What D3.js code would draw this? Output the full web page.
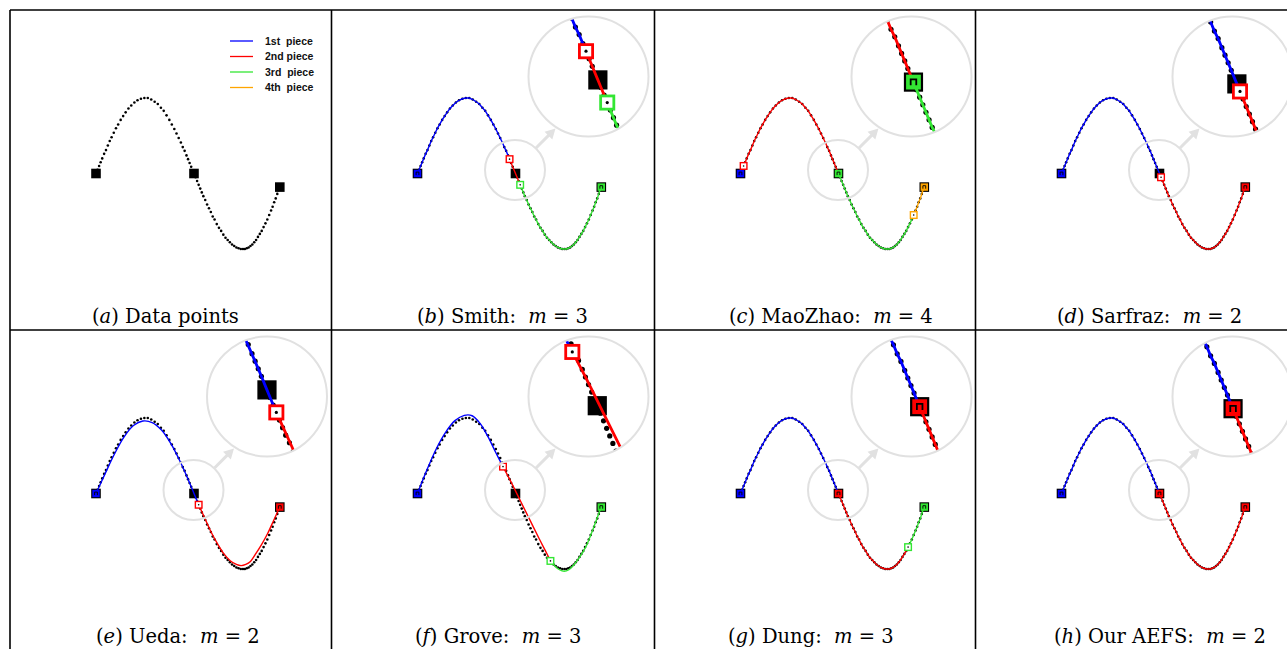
<!DOCTYPE html>
<html>
<head>
<meta charset="utf-8">
<script src="https://cdn.jsdelivr.net/npm/d3@7"></script>
<style>
body { margin: 0; background: #fff; }
text { white-space: pre; }
</style>
</head>
<body>
<svg id="fig"></svg>
<script>
// data points (x in curve units, y in amplitude units)
var dataX = [0, 0.05, 0.10, 0.15, 0.20, 0.26, 0.32, 0.38, 0.44, 0.50, 0.57, 0.64, 0.71, 0.79, 0.87, 0.95, 1.04, 1.13, 1.23, 1.33, 1.44, 1.55,
    1.66, 1.77, 1.88, 1.98, 2.08, 2.17, 2.26, 2.35, 2.43, 2.51, 2.58, 2.65, 2.72, 2.78, 2.84, 2.90, 2.95, 3.00, 3.05, 3.10, 3.14,
    3.19, 3.24, 3.29, 3.34, 3.39, 3.44, 3.50, 3.56, 3.62, 3.68, 3.74, 3.80, 3.87, 3.94, 4.01, 4.08, 4.15, 4.22, 4.29, 4.36, 4.43, 4.50, 4.57, 4.64, 4.71,
    4.77, 4.83, 4.89, 4.95, 5.01, 5.07, 5.13, 5.19, 5.25, 5.31, 5.37, 5.43, 5.49, 5.55, 5.61, 5.66, 5.71, 5.76, 5.81, 5.85, 5.89];
var dataY = [0, 0.05, 0.10, 0.15, 0.20, 0.26, 0.31, 0.37, 0.43, 0.48, 0.54, 0.60, 0.65, 0.71, 0.76, 0.81, 0.86, 0.90, 0.94, 0.97, 0.99, 1.00,
    1.00, 0.98, 0.95, 0.92, 0.87, 0.83, 0.77, 0.71, 0.65, 0.59, 0.53, 0.47, 0.41, 0.35, 0.30, 0.24, 0.19, 0.14, 0.09, 0.04, 0,
    -0.05, -0.10, -0.15, -0.20, -0.25, -0.30, -0.35, -0.41, -0.46, -0.51, -0.57, -0.61, -0.67, -0.72, -0.76, -0.81, -0.85, -0.88, -0.91, -0.94, -0.96, -0.98, -0.99, -1.00, -1.00,
    -1.00, -0.99, -0.98, -0.96, -0.94, -0.91, -0.88, -0.84, -0.80, -0.76, -0.71, -0.66, -0.61, -0.55, -0.49, -0.44, -0.38, -0.33, -0.27, -0.22, -0.18];

// the true breakpoints of the data (black squares)
var trueBreakX = [0, 3.14, 5.89];

var pieceColors = ["#0000ff", "#ff0000", "#33e633", "#ffa500"];
var legendLabels = ["1st  piece", "2nd piece", "3rd  piece", "4th  piece"];

var panelLetters = ["a", "b", "c", "d", "e", "f", "g", "h"];
var panelNames = ["Data points", "Smith", "MaoZhao", "Sarfraz", "Ueda", "Grove", "Dung", "Our AEFS"];
var panelM = [null, 3, 4, 2, 2, 3, 3, 2];
// start of each piece found by every method
var panelBreaks = [[], [0, 2.95, 3.29], [0, 0.10, 3.14, 5.55], [0, 3.19], [0, 3.29], [0, 2.74, 4.26], [0, 3.14, 5.37], [0, 3.14]];

// fitted curves that leave the data (Ueda, Grove)
var uedaFit = [
    [[0, 0], [0.3, 0.27], [0.6, 0.53], [0.9, 0.75], [1.2, 0.9], [1.5, 0.96], [1.8, 0.94], [2.1, 0.84], [2.4, 0.66], [2.7, 0.42], [3.0, 0.14], [3.14, 0.0], [3.29, -0.149]],
    [[3.29, -0.149], [3.5, -0.34], [3.7, -0.52], [3.9, -0.67], [4.1, -0.8], [4.3, -0.89], [4.5, -0.94], [4.65, -0.955], [4.8, -0.94], [4.95, -0.9], [5.1, -0.81], [5.3, -0.68], [5.5, -0.53], [5.7, -0.35], [5.89, -0.18]]
];
var groveFit = [
    [[0, 0], [0.3, 0.31], [0.6, 0.59], [0.9, 0.81], [1.2, 0.965], [1.5, 1.035], [1.75, 1.03], [2.0, 0.93], [2.25, 0.76], [2.5, 0.55], [2.74, 0.356]],
    [[2.74, 0.356], [3.0, 0.15], [3.3, -0.1], [3.6, -0.35], [3.9, -0.6], [4.1, -0.76], [4.26, -0.893]],
    [[4.26, -0.893], [4.4, -0.96], [4.55, -1.01], [4.7, -1.03], [4.85, -1.01], [5.0, -0.95], [5.2, -0.84], [5.4, -0.70], [5.6, -0.50], [5.75, -0.33], [5.89, -0.18]]
];
var panelFits = [null, null, null, null, uedaFit, groveFit, null, null];

// layout
var width = 1287, height = 649;
var colX = [10, 331.5, 654.5, 975.5];
var rowY = [10, 330];
var capX = [82, 85.5, 74.5, 81.5, 86, 83.5, 73.5, 78.5];
var insetFocus = [null, [179.3, 161.8], [183, 160.7], [181.8, 159.8], [184, 166.8], [179.6, 158.9], [179.9, 158.4], [183.7, 157.4]];
var bigC = [257, 66.5], bigR = 60, zoomK = 2;
var smallC = [183.5, 160], smallR = 30;
var arrowFrom = [204.5, 138], arrowTo = [224, 118.5];

var x = d3.scaleLinear().domain([0, 5.89]).range([86, 269.8]);
var y = d3.scaleLinear().domain([-1, 1]).range([239, 88]);

var points = dataX.map(function(v, i) { return [v, dataY[i]]; });
var line = d3.line().x(function(d) { return x(d[0]); }).y(function(d) { return y(d[1]); });
var smooth = d3.line().x(function(d) { return x(d[0]); }).y(function(d) { return y(d[1]); }).curve(d3.curveCatmullRom.alpha(0.5));

function isTrueBreak(v) {
    return trueBreakX.some(function(b) { return Math.abs(b - v) < 0.005; });
}
function pointAt(v) {
    return points.find(function(d) { return Math.abs(d[0] - v) < 0.005; });
}

function piecesFor(p) {
    if (panelFits[p]) return panelFits[p];
    var br = panelBreaks[p];
    return br.map(function(b, i) {
        var end = i + 1 < br.length ? br[i + 1] : dataX[dataX.length - 1];
        return points.filter(function(d) { return d[0] >= b - 1e-6 && d[0] <= end + 1e-6; });
    });
}

var svg = d3.select("#fig").attr("width", width).attr("height", height);
svg.append("rect").attr("width", width).attr("height", height).attr("fill", "#fff");
var defs = svg.append("defs");

function drawContent(g, p) {
    g.selectAll("circle.dot").data(points).join("circle")
        .attr("class", "dot")
        .attr("cx", function(d) { return x(d[0]); })
        .attr("cy", function(d) { return y(d[1]); })
        .attr("r", 1.3)
        .attr("fill", "#000");

    var bps = trueBreakX.map(pointAt);
    g.selectAll("rect.bp").data(bps).join("rect")
        .attr("class", "bp")
        .attr("x", function(d) { return x(d[0]) - 4.8; })
        .attr("y", function(d) { return y(d[1]) - 4.8; })
        .attr("width", 9.6).attr("height", 9.6)
        .attr("fill", "#000");

    if (p == 0) return;

    var pieces = piecesFor(p);
    g.selectAll("path.piece").data(pieces).join("path")
        .attr("class", "piece")
        .attr("d", panelFits[p] ? smooth : line)
        .attr("fill", "none")
        .attr("stroke", function(d, i) { return pieceColors[i]; })
        .attr("stroke-width", 1.4);

    var marks = [];
    pieces.forEach(function(pc, i) {
        var s = pc[0];
        marks.push({ x: s[0], y: s[1], c: pieceColors[i], filled: isTrueBreak(s[0]) });
    });
    var last = pieces[pieces.length - 1];
    var e = last[last.length - 1];
    marks.push({ x: e[0], y: e[1], c: pieceColors[pieces.length - 1], filled: true });

    var filled = marks.filter(function(m) { return m.filled; });
    var hollow = marks.filter(function(m) { return !m.filled; });

    var fg = g.selectAll("g.fmark").data(filled).join("g")
        .attr("class", "fmark")
        .attr("transform", function(d) { return "translate(" + x(d.x) + "," + y(d.y) + ")"; });
    fg.append("rect").attr("x", -3.7).attr("y", -3.7).attr("width", 7.4).attr("height", 7.4)
        .attr("fill", function(d) { return d.c; });
    fg.append("path").attr("d", "M -1.4 1.6 V -1.4 H 1.4 V 1.6")
        .attr("fill", "none").attr("stroke", "#000").attr("stroke-width", 0.9);

    var hg = g.selectAll("g.hmark").data(hollow).join("g")
        .attr("class", "hmark")
        .attr("transform", function(d) { return "translate(" + x(d.x) + "," + y(d.y) + ")"; });
    hg.append("rect").attr("x", -3.3).attr("y", -3.3).attr("width", 6.6).attr("height", 6.6)
        .attr("fill", "#fff")
        .attr("stroke", function(d) { return d.c; })
        .attr("stroke-width", 1.4);
    hg.append("circle").attr("r", 0.8).attr("fill", "#000");
}

for (var p = 0; p < 8; p++) {
    var col = p % 4, row = Math.floor(p / 4);
    var pg = svg.append("g").attr("transform", "translate(" + colX[col] + "," + rowY[row] + ")");

    drawContent(pg.append("g"), p);

    if (p > 0) {
        // magnifier
        pg.append("circle").attr("cx", smallC[0]).attr("cy", smallC[1]).attr("r", smallR)
            .attr("fill", "none").attr("stroke", "#e1e1e1").attr("stroke-width", 2);

        var dx = arrowTo[0] - arrowFrom[0], dy = arrowTo[1] - arrowFrom[1];
        var len = Math.sqrt(dx * dx + dy * dy), ux = dx / len, uy = dy / len;
        var hl = 10, hw = 5.5;
        var bx = arrowTo[0] - ux * hl, by = arrowTo[1] - uy * hl;
        pg.append("line")
            .attr("x1", arrowFrom[0]).attr("y1", arrowFrom[1])
            .attr("x2", bx + ux * 2).attr("y2", by + uy * 2)
            .attr("stroke", "#e1e1e1").attr("stroke-width", 3);
        pg.append("polygon")
            .attr("points", [[arrowTo[0], arrowTo[1]], [bx - uy * hw, by + ux * hw], [bx + uy * hw, by - ux * hw]].map(function(q) { return q.join(","); }).join(" "))
            .attr("fill", "#e1e1e1");

        defs.append("clipPath").attr("id", "clip" + p)
            .append("circle").attr("cx", bigC[0]).attr("cy", bigC[1]).attr("r", bigR);
        pg.append("circle").attr("cx", bigC[0]).attr("cy", bigC[1]).attr("r", bigR).attr("fill", "#fff");
        var f = insetFocus[p];
        var ins = pg.append("g").attr("clip-path", "url(#clip" + p + ")")
            .append("g")
            .attr("transform", "translate(" + bigC[0] + "," + bigC[1] + ") scale(" + zoomK + ") translate(" + (-f[0]) + "," + (-f[1]) + ")");
        drawContent(ins, p);
        pg.append("circle").attr("cx", bigC[0]).attr("cy", bigC[1]).attr("r", bigR)
            .attr("fill", "none").attr("stroke", "#e1e1e1").attr("stroke-width", 2);
    } else {
        // legend
        legendLabels.forEach(function(lab, i) {
            var ly = 31 + i * 15.5;
            pg.append("line").attr("x1", 220).attr("x2", 243).attr("y1", ly).attr("y2", ly)
                .attr("stroke", pieceColors[i]).attr("stroke-width", 1.3);
            pg.append("text").attr("x", 255).attr("y", ly).attr("dy", "0.35em")
                .attr("font-family", "Liberation Sans, Arial, sans-serif")
                .attr("font-weight", "bold").attr("font-size", 10.5).attr("fill", "#111")
                .text(lab);
        });
    }

    var cap = pg.append("text").attr("x", capX[p]).attr("y", 312.5)
        .attr("text-anchor", "start")
        .attr("font-family", "DejaVu Serif, serif").attr("font-size", 19.5).attr("fill", "#000");
    cap.append("tspan").text("(");
    cap.append("tspan").attr("font-style", "italic").text(panelLetters[p]);
    cap.append("tspan").text(") " + panelNames[p] + (panelM[p] ? ":  " : ""));
    if (panelM[p]) {
        cap.append("tspan").attr("font-style", "italic").text("m");
        cap.append("tspan").text(" = " + panelM[p]);
    }
}

// panel frame
var frame = svg.append("g").attr("stroke", "#000").attr("stroke-width", 1.6);
rowY.forEach(function(ry) {
    frame.append("line").attr("x1", colX[0]).attr("x2", width).attr("y1", ry).attr("y2", ry);
});
colX.forEach(function(cx) {
    frame.append("line").attr("x1", cx).attr("x2", cx).attr("y1", rowY[0]).attr("y2", height);
});
</script>
</body>
</html>
